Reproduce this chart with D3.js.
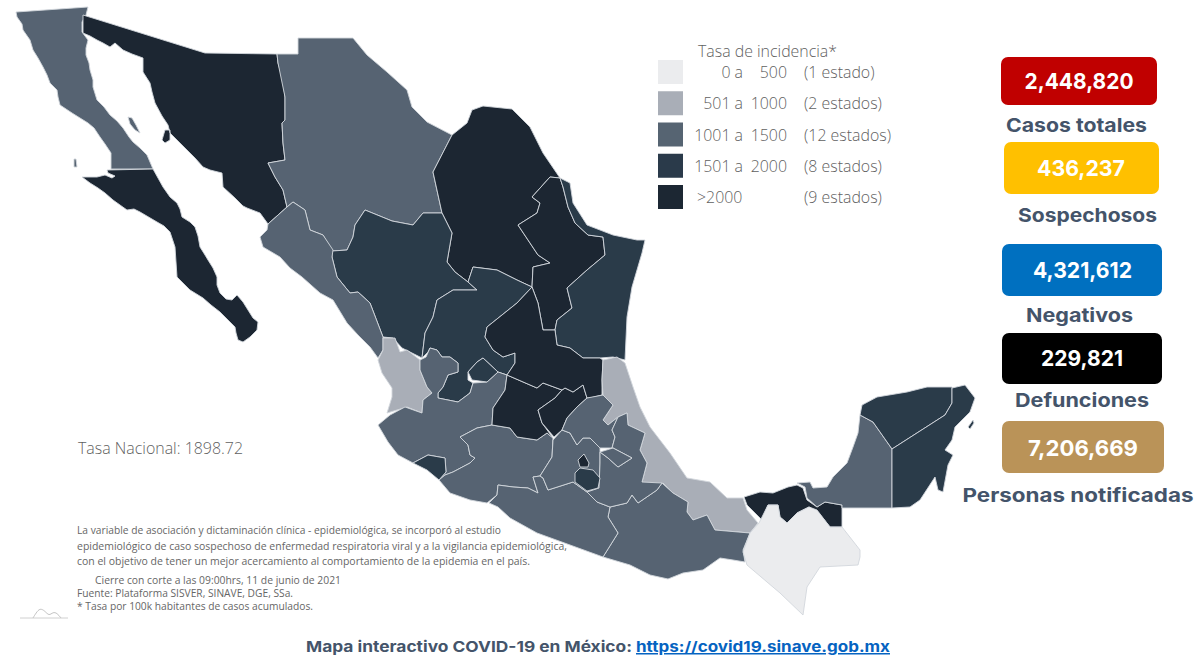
<!DOCTYPE html>
<html><head><meta charset="utf-8">
<script src="https://cdn.jsdelivr.net/npm/d3@7/dist/d3.min.js"></script>
<style>html,body{margin:0;padding:0;background:#fff}svg{display:block}</style>
</head><body><svg id="c" width="1200" height="667"></svg>
<script>
const legendClasses=["0 a 500","501 a 1000","1001 a 1500","1501 a 2000",">2000"];
const legendFrom=["0 a","501 a","1001 a","1501 a",">2000"];
const legendTo=["500","1000","1500","2000",""];
const legendCounts=["(1 estado)","(2 estados)","(12 estados)","(8 estados)","(9 estados)"];
const legendColors=["#ebecee","#a9aeb7","#566472","#2a3a4a","#1c2733"];
const statLabels=["Casos totales","Sospechosos","Negativos","Defunciones","Personas notificadas"];
const statValues=[2448820,436237,4321612,229821,7206669];
const statColors=["#c00000","#ffc000","#0070c0","#000000","#ba9358"];
const stateNames=["Baja California","Baja California Sur","Sonora","Chihuahua","Coahuila","Nuevo León","Tamaulipas","Durango","Sinaloa","Nayarit","Zacatecas","Jalisco","Colima","Michoacán","Guanajuato","Querétaro","San Luis Potosí","Veracruz","Oaxaca","Guerrero","México","Hidalgo","Puebla","Tlaxcala","Tabasco","Campeche","Yucatán","Quintana Roo","Chiapas","Aguascalientes","Morelos","Ciudad de México"];
const stateClasses=[2,4,4,2,4,4,3,3,2,1,3,2,3,2,4,4,4,1,2,2,2,2,2,2,4,2,3,3,0,3,3,4];
const stateRings=[
[[[16,12],[88,7],[86,15],[82,22],[82,32],[88,40],[86,48],[86,55],[89,63],[90,70],[93,80],[93,87],[97,100],[104,107],[110,115],[117,121],[123,128],[129,137],[133,142],[140,148],[147,155],[150,162],[153,169],[111,169],[111,153],[105,144],[100,137],[94,128],[88,123],[80,118],[72,113],[60,105],[58,97],[57,90],[50,83],[47,75],[43,67],[38,58],[33,50],[30,40],[23,30],[22,24],[17,17]],[[128,117],[132,118],[136,125],[140,133],[135,130],[130,124]],[[74,159],[76,159],[77,167],[74,167]]],
[[[107,170],[153,169],[158,178],[163,187],[170,197],[177,203],[180,209],[182,217],[190,222],[195,227],[198,236],[200,247],[205,255],[208,260],[213,268],[217,277],[217,285],[220,293],[226,299],[232,300],[237,295],[243,302],[248,310],[253,318],[258,322],[257,330],[250,337],[243,342],[238,340],[236,333],[235,327],[228,320],[220,312],[211,305],[203,298],[190,290],[184,284],[177,277],[176,262],[175,247],[170,232],[164,226],[157,222],[140,212],[134,209],[127,210],[120,205],[113,200],[105,193],[98,188],[90,183],[82,177],[97,177],[105,175],[112,178],[115,176],[108,173]]],
[[[83,15],[205,53],[277,54],[278,63],[283,80],[285,97],[285,120],[282,123],[283,143],[285,160],[268,163],[275,177],[283,190],[287,207],[268,224],[260,213],[247,208],[243,206],[235,198],[223,187],[222,173],[210,170],[203,167],[195,158],[187,150],[178,141],[170,133],[168,125],[162,116],[155,103],[152,92],[150,83],[143,72],[143,58],[132,54],[123,50],[115,43],[110,47],[103,43],[97,40],[90,36],[83,33]],[[162,140],[165,130],[170,130],[170,140],[165,143]]],
[[[298,38],[353,38],[367,55],[387,72],[407,90],[412,107],[427,122],[452,135],[433,172],[442,213],[423,213],[413,225],[392,221],[365,210],[355,225],[353,237],[347,250],[332,251],[323,235],[310,230],[305,210],[293,202],[287,207],[283,190],[275,177],[268,163],[285,160],[283,143],[282,123],[285,120],[285,97],[278,63],[277,54],[298,54]]],
[[[452,135],[467,123],[472,110],[483,106],[512,109],[530,127],[543,153],[560,178],[550,177],[532,197],[540,203],[537,213],[518,225],[530,243],[538,255],[550,263],[533,267],[532,287],[517,280],[497,270],[473,267],[468,282],[455,272],[447,262],[452,233],[442,213],[433,172]]],
[[[560,178],[563,187],[568,207],[575,223],[588,235],[603,237],[605,255],[587,270],[567,288],[572,308],[557,320],[555,330],[543,330],[538,303],[532,287],[533,267],[550,263],[538,255],[530,243],[518,225],[537,213],[540,203],[532,197],[550,177]]],
[[[560,178],[570,183],[573,203],[587,225],[613,235],[637,240],[645,240],[642,253],[632,287],[627,317],[625,360],[613,357],[600,358],[583,358],[570,348],[557,345],[555,330],[557,320],[572,308],[567,288],[587,270],[605,255],[603,237],[588,235],[575,223],[568,207],[563,187]]],
[[[332,251],[347,250],[353,237],[355,225],[365,210],[392,221],[413,225],[423,213],[442,213],[452,233],[447,262],[455,272],[468,282],[477,290],[453,290],[437,300],[433,317],[425,333],[422,358],[402,348],[393,338],[383,337],[370,303],[358,292],[350,293],[337,277],[332,257]]],
[[[287,207],[293,202],[305,210],[310,230],[323,235],[333,250],[332,257],[337,277],[350,293],[358,292],[370,303],[383,337],[383,350],[378,358],[370,347],[358,335],[347,323],[333,300],[320,293],[311,285],[302,277],[290,268],[280,257],[263,247],[260,237],[267,230],[268,224]]],
[[[383,338],[395,338],[400,352],[407,350],[420,360],[420,370],[427,387],[432,393],[423,400],[422,413],[407,407],[387,413],[392,397],[392,388],[382,373],[378,360],[383,350]]],
[[[473,267],[497,270],[517,280],[532,287],[517,303],[487,327],[485,337],[493,350],[503,357],[515,353],[515,363],[507,375],[498,372],[483,358],[477,362],[468,372],[468,380],[473,383],[470,393],[458,402],[438,398],[438,393],[443,387],[448,375],[458,372],[458,363],[450,357],[442,357],[437,350],[430,348],[428,352],[422,358],[425,333],[433,317],[437,300],[453,290],[477,290],[468,282]]],
[[[420,360],[426,357],[430,348],[437,350],[442,357],[450,357],[458,363],[458,372],[448,375],[443,387],[438,393],[438,398],[458,402],[470,393],[473,383],[487,382],[498,372],[507,375],[505,390],[493,408],[492,425],[477,428],[460,437],[468,445],[470,455],[475,458],[470,463],[453,472],[445,475],[439,480],[446,472],[445,458],[428,455],[413,463],[398,455],[388,442],[378,425],[390,415],[405,407],[422,413],[423,400],[432,393],[427,387],[420,370]]],
[[[413,463],[428,455],[445,458],[446,472],[439,480],[427,470]]],
[[[492,425],[477,428],[460,437],[468,445],[470,455],[475,458],[470,463],[453,472],[445,475],[439,480],[450,493],[470,500],[487,503],[497,495],[498,485],[513,487],[528,488],[538,493],[533,477],[540,476],[552,457],[553,438],[547,433],[537,440],[517,437],[510,428]]],
[[[507,375],[537,388],[543,383],[562,390],[555,398],[538,410],[542,423],[553,438],[547,433],[537,440],[517,437],[510,428],[492,425],[493,408],[505,390]]],
[[[565,388],[573,392],[583,385],[587,398],[577,407],[567,418],[562,430],[554,437],[542,423],[538,410],[555,398],[562,390]]],
[[[532,287],[538,303],[543,330],[555,330],[557,345],[570,348],[583,358],[600,358],[603,360],[602,380],[602,395],[590,398],[587,398],[583,385],[573,392],[565,388],[562,390],[543,383],[537,388],[507,375],[515,363],[515,353],[503,357],[493,350],[485,337],[487,327],[517,303]]],
[[[603,360],[617,357],[625,363],[633,387],[640,407],[650,427],[670,453],[687,478],[710,482],[727,498],[743,498],[747,510],[758,523],[750,533],[715,530],[707,515],[693,520],[687,512],[688,502],[673,493],[663,483],[657,487],[645,483],[642,482],[647,463],[640,450],[645,433],[628,425],[627,413],[618,417],[608,425],[603,420],[613,405],[603,395],[602,380]]],
[[[662,483],[673,493],[688,502],[687,512],[693,520],[707,515],[715,530],[750,533],[743,550],[745,562],[733,560],[720,558],[703,570],[683,573],[668,579],[650,575],[630,565],[603,557],[618,533],[608,517],[610,507],[627,503],[632,495],[638,503],[657,490]]],
[[[489,503],[497,495],[498,485],[513,487],[528,488],[538,493],[533,477],[540,476],[543,478],[548,490],[573,482],[587,492],[597,502],[610,507],[608,517],[618,533],[603,557],[570,545],[537,533],[510,518],[498,507]]],
[[[553,440],[562,430],[570,433],[577,445],[583,438],[590,438],[600,448],[600,465],[599,488],[587,492],[573,482],[548,490],[543,478],[540,476],[552,457]]],
[[[562,430],[567,418],[577,407],[587,398],[603,395],[613,405],[603,420],[608,425],[618,417],[612,430],[615,437],[612,448],[600,448],[590,438],[583,438],[577,445],[570,433]]],
[[[618,417],[627,413],[628,425],[645,433],[640,450],[647,463],[642,482],[662,483],[657,490],[638,503],[632,495],[627,503],[610,507],[597,502],[587,492],[599,488],[600,463],[600,452],[608,458],[618,467],[632,458],[613,448],[612,448],[615,437],[612,430]]],
[[[600,452],[613,448],[632,458],[618,467],[608,458]]],
[[[744,497],[760,492],[773,493],[788,487],[797,485],[803,488],[807,500],[817,507],[825,502],[842,505],[842,527],[830,527],[818,512],[809,507],[797,513],[787,523],[780,517],[778,505],[768,505],[762,520],[747,505]]],
[[[860,415],[873,422],[892,449],[892,508],[842,508],[842,505],[825,502],[817,507],[807,498],[805,487],[797,483],[810,482],[813,488],[827,487],[833,477],[847,463],[853,447],[858,433]]],
[[[860,415],[862,405],[877,397],[907,392],[927,387],[952,387],[952,403],[945,415],[892,449],[873,422]]],
[[[952,388],[965,385],[975,398],[970,412],[955,427],[952,440],[945,450],[953,455],[948,465],[943,492],[938,490],[935,477],[920,500],[910,507],[892,508],[892,449],[945,415],[952,403]],[[968,427],[973,420],[974,423],[970,429]]],
[[[759,523],[768,505],[778,505],[780,517],[787,523],[797,513],[809,507],[817,510],[830,527],[842,527],[860,550],[860,557],[858,565],[820,567],[807,587],[803,615],[780,593],[767,582],[747,565],[743,552],[750,533]]],
[[[468,372],[477,362],[483,358],[498,372],[487,382],[472,380]]],
[[[575,482],[575,473],[580,468],[593,470],[600,478],[598,488],[587,491]]],
[[[578,460],[584,454],[589,463],[588,467],[580,467]]]
];
const noteLines=["La variable de asociación y dictaminación clínica - epidemiológica, se incorporó al estudio","epidemiológico de caso sospechoso de enfermedad respiratoria viral y a la vigilancia epidemiológica,","con el objetivo de tener un mejor acercamiento al comportamiento de la epidemia en el país.","Cierre con corte a las 09:00hrs, 11 de junio de 2021","Fuente: Plataforma SISVER, SINAVE, DGE, SSa.","* Tasa por 100k habitantes de casos acumulados."];
const logoPoints=[[33,618],[36,613],[40,608],[45,611],[49,616],[53,612],[57,613],[61,618]];

const svg=d3.select("#c");
const defs=svg.append("defs");
defs.append("filter").attr("id","soft").append("feGaussianBlur").attr("stdDeviation",0.5);
const fill=d3.scaleOrdinal().domain(legendClasses).range(legendColors);
const path=d3.geoPath(d3.geoIdentity());
const features=stateNames.map((n,i)=>({type:"Feature",properties:{name:n,cls:legendClasses[stateClasses[i]]},geometry:{type:"MultiPolygon",coordinates:stateRings[i].map(r=>[r.concat([r[0]])])}}));
svg.append("g").attr("filter","url(#soft)").selectAll("path").data(features).join("path")
 .attr("d",path).attr("fill",d=>fill(d.properties.cls))
 .attr("stroke","#d3d7dc").attr("stroke-width",0.9).attr("stroke-linejoin","round");

const lf="'Open Sans',sans-serif";
const legend=svg.append("g").attr("font-family",lf).attr("font-weight",300).attr("fill","#5f5f5f").attr("font-size",15.9);
const ly=d3.scaleLinear().domain([0,4]).range([60,185]);
legend.append("text").attr("x",698).attr("y",56.5).text("Tasa de incidencia*");
legendClasses.forEach((c,i)=>{
 legend.append("rect").attr("x",658).attr("y",ly(i)).attr("width",25).attr("height",24).attr("fill",fill(c));
 const y=ly(i)+18;
 legend.append("text").attr("x",i==4?697:743).attr("y",y).attr("text-anchor",i==4?"start":"end").text(legendFrom[i]);
 legend.append("text").attr("x",787).attr("y",y).attr("text-anchor","end").text(legendTo[i]);
 legend.append("text").attr("x",804).attr("y",y).text(legendCounts[i]);
});

const fmt=d3.format(",");
const boxX=[1001,1004,1002,1002,1002],boxW=[156,155,160,160,162],boxY=[57,142,244,333,421],boxH=[48,52,52,51,52];
const numX=[1079,1081,1082.5,1082,1083],numY=[89,176,278,366,456],labX=[1076.5,1087.5,1079.5,1082,1078],labY=[132,222,322,407,502],labW=[141,139,107,134,231];
const numW=[109,88,99,82,110];
const sf="'Inter','Open Sans',sans-serif";
statValues.forEach((v,i)=>{
 svg.append("rect").attr("x",boxX[i]).attr("y",boxY[i]).attr("width",boxW[i]).attr("height",boxH[i]).attr("rx",7).attr("fill",statColors[i]);
 svg.append("text").attr("x",numX[i]).attr("y",numY[i]).attr("text-anchor","middle").attr("font-family",sf).attr("font-weight",700).attr("font-size",22).attr("fill","#fff").attr("textLength",numW[i]).attr("lengthAdjust","spacingAndGlyphs").text(fmt(v));
 svg.append("text").attr("x",labX[i]).attr("y",labY[i]).attr("text-anchor","middle").attr("font-family",sf).attr("font-weight",700).attr("font-size",19).attr("fill","#44546a").attr("textLength",labW[i]).attr("lengthAdjust","spacingAndGlyphs").text(statLabels[i]);
});

svg.append("text").attr("x",78).attr("y",454).attr("font-family",lf).attr("font-weight",300).attr("font-size",17).attr("fill","#5f5f5f").attr("textLength",165).attr("lengthAdjust","spacingAndGlyphs").text("Tasa Nacional: 1898.72");
const noteX=[77,77,77,95,77,77],noteY=[534,550,565,584,597,610],noteW=[424,490,453,246,216,236];
noteLines.forEach((t,i)=>svg.append("text").attr("x",noteX[i]).attr("y",noteY[i]).attr("font-family",lf).attr("font-weight",400).attr("font-size",10).attr("fill","#666").attr("textLength",noteW[i]).attr("lengthAdjust","spacingAndGlyphs").text(t));

const logoLine=d3.line().curve(d3.curveBasis);
svg.append("path").attr("d",logoLine(logoPoints)).attr("fill","none").attr("stroke","#b5b5b5").attr("stroke-width",0.8);
svg.append("line").attr("x1",20).attr("x2",68).attr("y1",618).attr("y2",618).attr("stroke","#c4c4c4").attr("stroke-width",0.8);

svg.append("text").attr("x",306).attr("y",652).attr("font-family",sf).attr("font-weight",700).attr("font-size",15).attr("fill","#44546a").attr("textLength",326).attr("lengthAdjust","spacingAndGlyphs").text("Mapa interactivo COVID-19 en México:");
svg.append("text").attr("x",636).attr("y",652).attr("font-family",sf).attr("font-weight",700).attr("font-size",15).attr("fill","#0563c1").attr("text-decoration","underline").attr("textLength",254).attr("lengthAdjust","spacingAndGlyphs").text("https://covid19.sinave.gob.mx");
</script></body></html>
